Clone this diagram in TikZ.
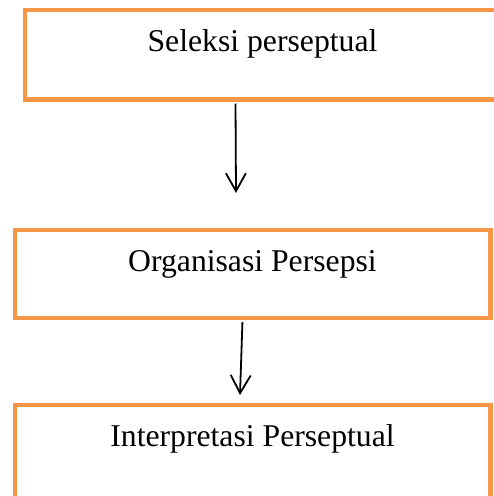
\documentclass[tikz,border=0pt]{standalone}
\usepackage{fontspec}
\setmainfont{Liberation Serif}
\usetikzlibrary{arrows.meta}
\definecolor{boxorange}{HTML}{F79646}

\begin{document}
\begin{tikzpicture}[x=1pt,y=-1pt,
    stagebox/.style={draw=boxorange, line width=4.5pt, anchor=north west,
      inner xsep=0pt, inner ysep=0pt, text height=42pt,
      font=\fontsize{31.7pt}{38pt}\selectfont},
    flow/.style={line width=1.8pt, shorten <=2pt,
      -{Straight Barb[length=18pt,width=20pt]}}]
  \useasboundingbox (0,0) rectangle (494,496);

  % Stages
  \node[stagebox, minimum width=475.5pt, text depth=47.5pt] (seleksi) at (22.5,7.5) {Seleksi perseptual};
  \node[stagebox, minimum width=475.5pt, text depth=46pt] (organisasi) at (12.5,227.5) {Organisasi Persepsi};
  \node[stagebox, minimum width=475.5pt, text depth=53pt] (interpretasi) at (12.5,402.5) {Interpretasi Perseptual};

  % Arrows
  \coordinate (tip1) at (236,193);
  \coordinate (tip2) at (240,395);
  \draw[flow] ([xshift=-27pt]seleksi.south) -- (tip1);
  \draw[flow] ([xshift=-10pt]organisasi.south) -- (tip2);
\end{tikzpicture}
\end{document}
